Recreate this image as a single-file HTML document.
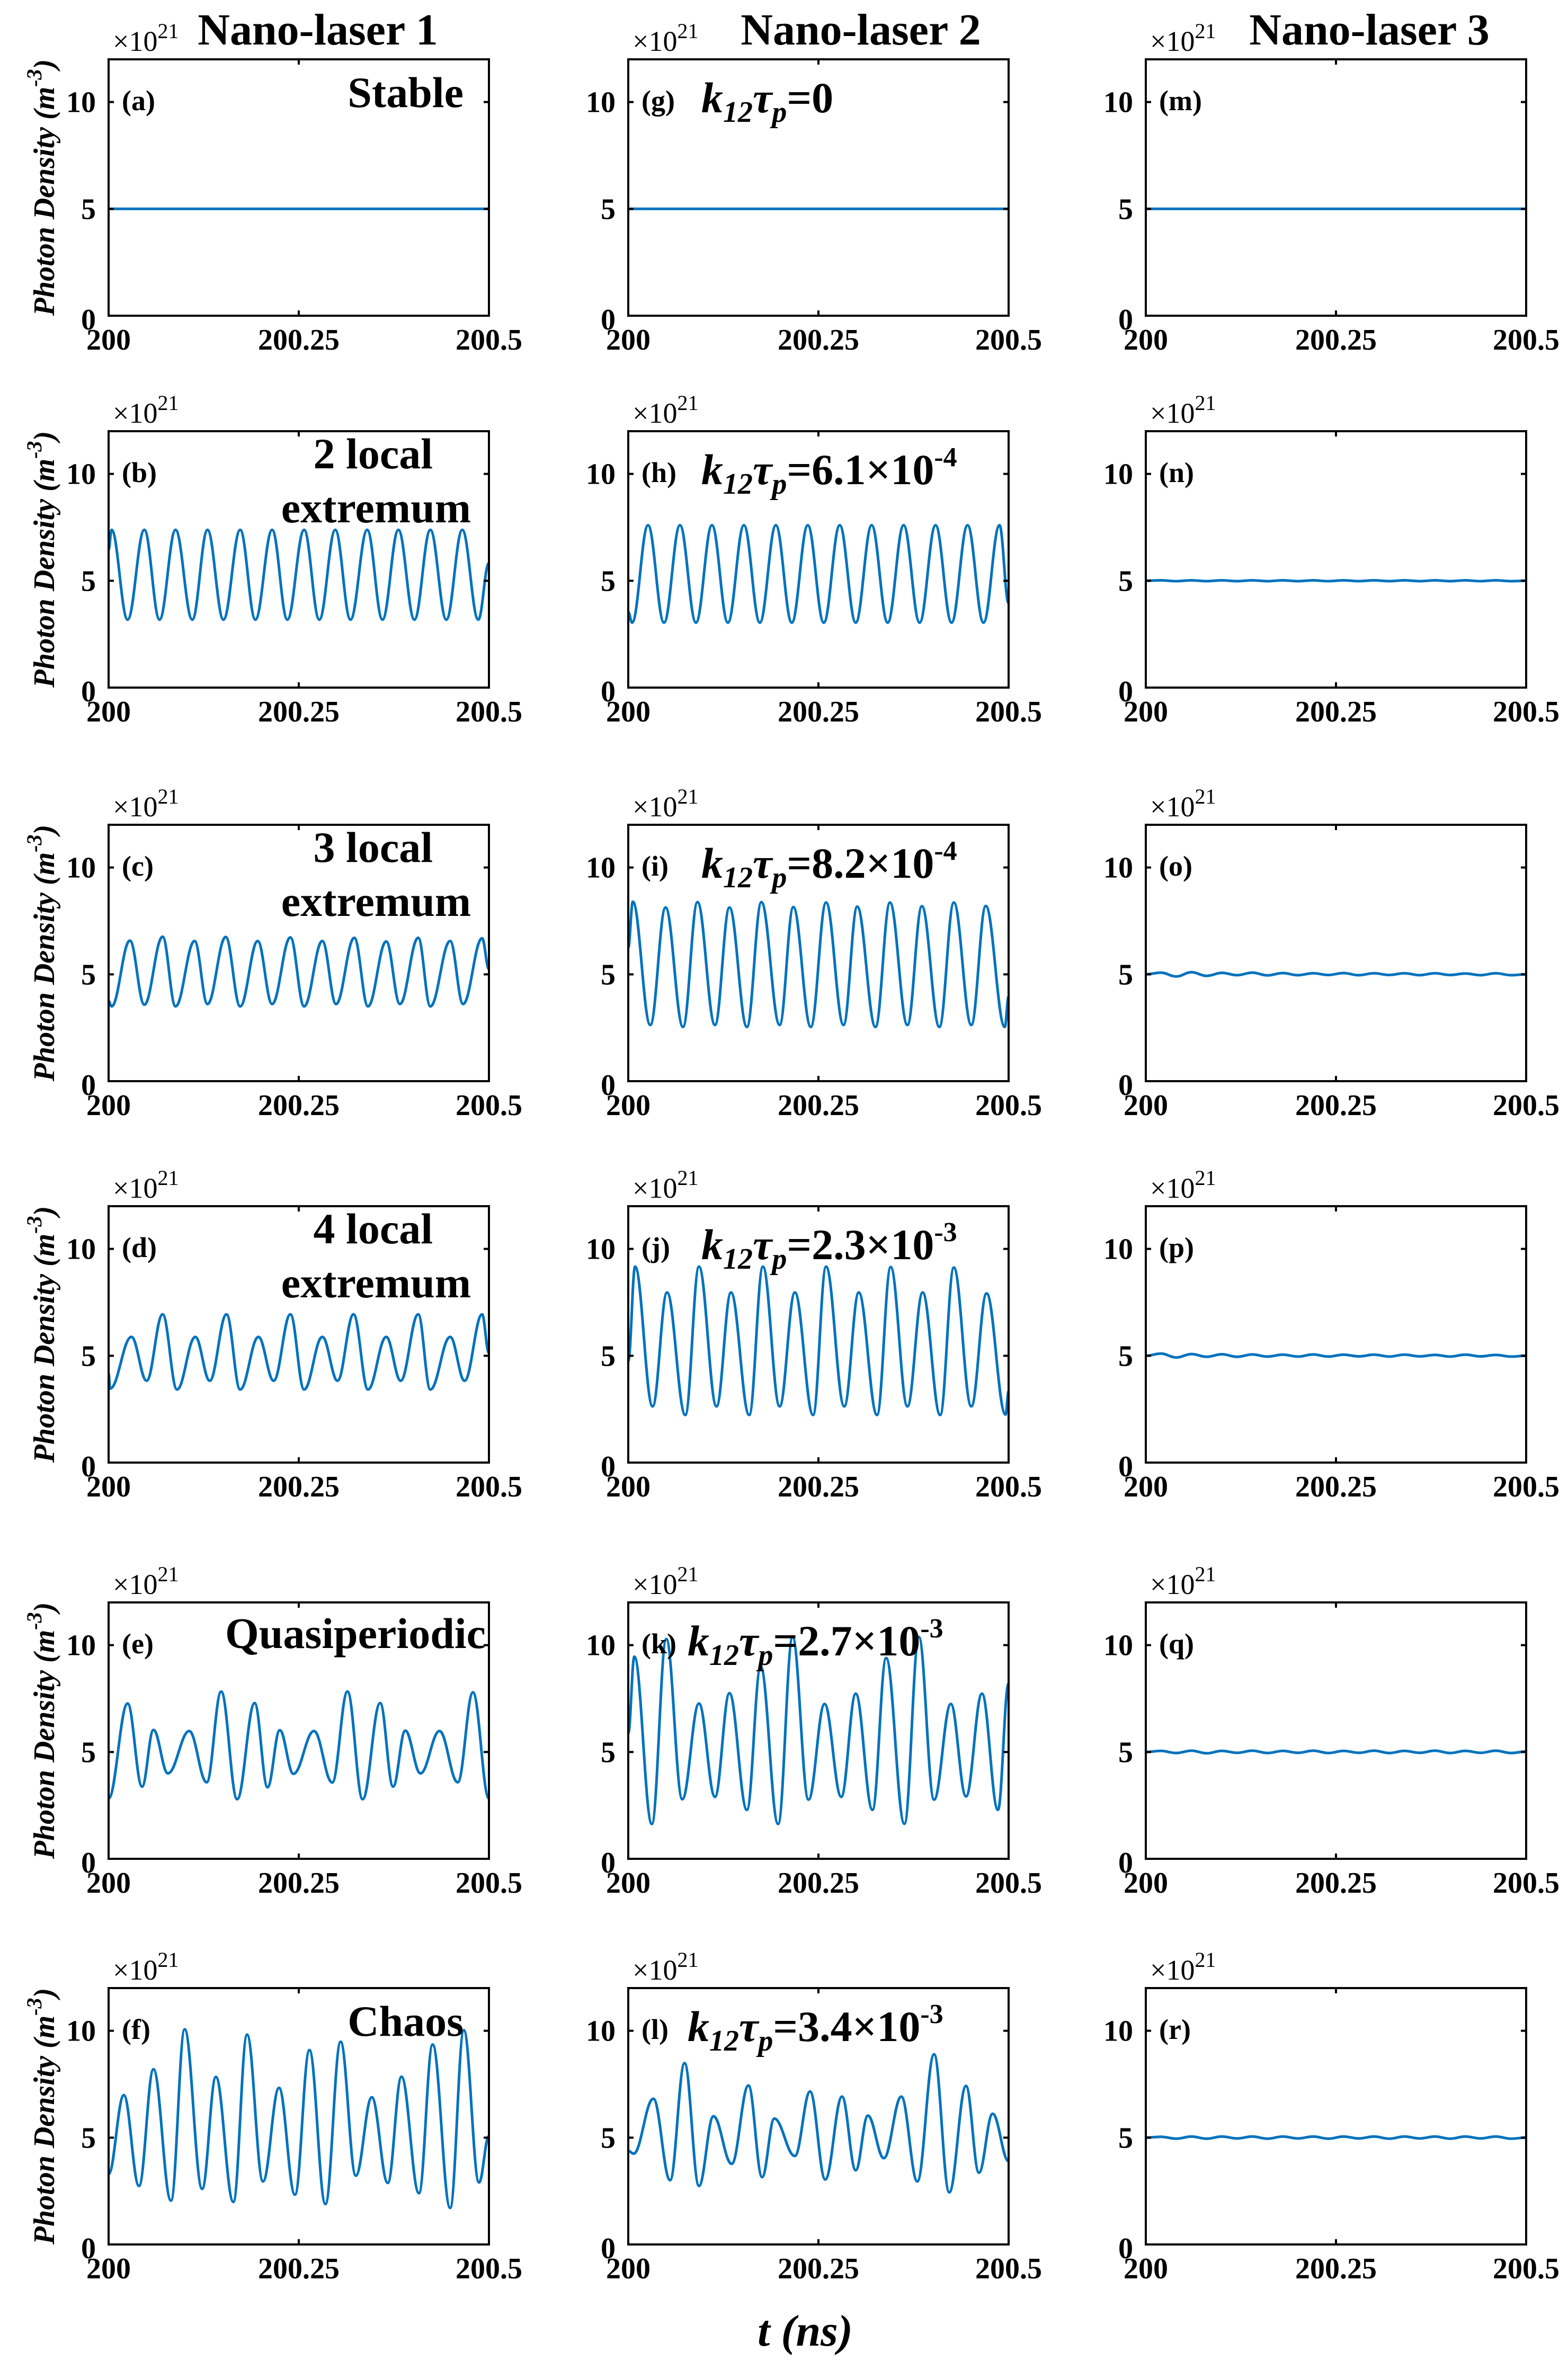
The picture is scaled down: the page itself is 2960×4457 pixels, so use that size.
<!DOCTYPE html>
<html><head><meta charset="utf-8"><title>Nano-laser photon density</title>
<style>
html,body{margin:0;padding:0;background:#fff;}
svg{display:block;font-family:"Liberation Serif",serif;}
</style></head>
<body>
<svg id="fig" xmlns="http://www.w3.org/2000/svg" width="2960" height="4457" viewBox="0 0 2960 4457">
<rect x="0" y="0" width="2960" height="4457" fill="#fff"/>
<text x="600" y="84" font-size="84" font-weight="bold" text-anchor="middle">Nano-laser 1</text>
<text x="1625" y="84" font-size="84" font-weight="bold" text-anchor="middle">Nano-laser 2</text>
<text x="2585" y="84" font-size="84" font-weight="bold" text-anchor="middle">Nano-laser 3</text>
<text x="1520" y="4428" font-size="84" font-weight="bold" font-style="italic" text-anchor="middle">t (ns)</text>
<g id="panels"></g>
</svg>
<script>
// ---- data: times as picoseconds after 200 ns, values in units of 1e21 m^-3 ----
const xTickLabels = ["200", "200.25", "200.5"];
const xTickValues = [200, 200.25, 200.5];
const yTickValues = [0, 5, 10];
const yTickLabels = ["0", "5", "10"];

const tFlat = [0, 500];
const vA = [5, 5];
const vG = [5, 5];
const vM = [5, 5];

const tB = [0,4,25,47,67,88,110,130,151,173,193,215,235,257,277,298,318,340,360,381,402,423,444,465,486,500];
const vB = [6.46,7.38,3.18,7.38,3.18,7.38,3.18,7.38,3.18,7.38,3.18,7.38,3.18,7.38,3.18,7.38,3.18,7.38,3.18,7.38,3.18,7.38,3.18,7.38,3.18,5.83];

const tC = [0,4,28,47,71,88,113,130,154,173,196,215,239,257,281,299,323,341,365,383,407,423,449,466,491,500];
const vC = [3.75,3.5,6.58,3.58,6.76,3.5,6.56,3.61,6.75,3.5,6.56,3.61,6.73,3.5,6.56,3.61,6.71,3.5,6.54,3.61,6.71,3.5,6.56,3.61,6.69,5.25];

const tD = [0,2,30,50,71,90,114,133,155,173,197,217,239,257,281,301,322,341,365,384,407,423,449,468,491,500];
const vD = [4.17,3.46,5.88,3.83,6.94,3.42,5.88,3.83,6.94,3.42,5.88,3.83,6.94,3.42,5.88,3.83,6.94,3.42,5.88,3.83,6.94,3.42,5.88,3.83,6.94,5.13];

const tE = [0,25,44,59,78,106,129,148,169,192,209,225,243,270,294,314,334,357,374,390,410,435,459,479,500];
const vE = [2.83,7.27,3.38,6.03,4.0,5.98,3.58,7.83,2.79,7.29,3.35,6.02,3.98,5.98,3.57,7.83,2.79,7.29,3.38,6.0,4.0,5.98,3.58,7.79,2.83];

const tF = [0,20,40,59,82,100,123,141,164,182,203,224,245,264,285,305,325,346,367,385,408,426,449,467,487,500];
const vF = [3.3,6.99,2.74,8.2,2.05,10.07,2.6,7.84,1.99,9.82,2.95,7.33,2.33,9.1,1.89,9.49,3.22,6.89,2.88,7.85,2.4,9.36,1.71,10.03,2.9,5.07];

const tH = [0,5,26,47,68,89,110,131,152,173,194,215,236,257,278,299,320,341,362,383,404,425,446,467,488,500];
const vH = [3.54,3.04,7.6,3.04,7.6,3.04,7.6,3.04,7.6,3.04,7.6,3.04,7.6,3.04,7.6,3.04,7.6,3.04,7.6,3.04,7.6,3.04,7.6,3.04,7.6,3.96];

const tI = [0,6,29,49,72,91,114,133,156,175,199,217,240,260,283,301,325,344,367,386,409,428,451,470,495,500];
const vI = [6.25,8.4,2.63,8.13,2.54,8.38,2.63,8.13,2.54,8.38,2.63,8.15,2.54,8.36,2.63,8.17,2.54,8.36,2.63,8.19,2.54,8.36,2.63,8.2,2.54,3.96];

const tJ = [0,9,32,51,75,93,116,135,159,177,199,219,243,260,284,303,327,345,367,387,410,428,451,471,496,500];
const vJ = [4.75,9.17,2.63,7.96,2.23,9.17,2.63,7.96,2.23,9.17,2.63,7.96,2.23,9.17,2.63,7.96,2.23,9.15,2.63,7.96,2.23,9.13,2.63,7.92,2.25,3.33];

const tK = [0,8,31,50,71,93,114,133,156,174,197,216,237,258,280,299,321,339,363,382,402,424,444,465,486,500];
const vK = [5.88,9.46,1.63,10.29,2.79,7.27,2.9,7.75,2.29,9.0,1.63,10.38,2.77,7.25,2.9,7.73,2.29,9.4,1.64,10.38,2.77,7.25,2.92,7.73,2.29,8.2];

const tL = [0,7,33,55,74,93,112,136,158,176,192,219,239,259,281,299,315,336,359,380,402,422,444,461,479,500];
const vL = [4.38,4.25,6.82,3.01,8.49,2.74,6.0,3.77,7.44,3.15,5.89,4.14,7.16,3.04,6.92,3.47,6.03,4.04,6.92,2.95,8.9,2.44,7.42,3.36,6.12,3.9];

const tRip = [0,20,40,60,80,100,120,140,160,180,200,220,240,260,280,300,320,340,360,380,400,420,440,460,480,500];
const vN = [5.0,5.02,4.98,5.02,4.98,5.02,4.98,5.02,4.98,5.02,4.98,5.02,4.98,5.02,4.98,5.02,4.98,5.02,4.98,5.02,4.98,5.02,4.98,5.02,4.98,5.0];
const vO = [5.0,5.08,4.9,5.1,4.93,5.07,4.96,5.08,4.95,5.06,4.96,5.05,4.97,5.06,4.96,5.05,4.97,5.05,4.96,5.05,4.97,5.04,4.96,5.05,4.96,5.0];
const vP = [5.0,5.1,4.92,5.08,4.95,5.07,4.95,5.06,4.96,5.05,4.96,5.06,4.96,5.05,4.97,5.05,4.96,5.05,4.97,5.04,4.96,5.05,4.97,5.04,4.96,5.0];
const vQ = [5.0,5.05,4.95,5.06,4.94,5.05,4.96,5.06,4.95,5.05,4.96,5.06,4.95,5.05,4.96,5.06,4.95,5.05,4.96,5.06,4.95,5.05,4.96,5.06,4.95,5.02];
const vR = [5.0,5.04,4.95,5.05,4.95,5.05,4.96,5.05,4.95,5.05,4.96,5.05,4.95,5.05,4.96,5.05,4.95,5.05,4.96,5.05,4.95,5.05,4.96,5.05,4.95,5.0];

// ---- layout ----
const NS = "http://www.w3.org/2000/svg";
const colLeft = [205, 1186, 2163];
const plotW = 718;
const rowBottom = [596, 1298, 2041, 2761, 3509, 4237];
const plotH = 484;
const yMax = 12;

function xScale(col, t) { return colLeft[col] + (t - 200) / 0.5 * plotW; }
function yScale(row, v) { return rowBottom[row] - v / yMax * plotH; }

const panels = [
  {row:0,col:0,id:"a",t:tFlat,v:vA,note:"Stable"},
  {row:1,col:0,id:"b",t:tB,v:vB,note:"2 local"},
  {row:2,col:0,id:"c",t:tC,v:vC,note:"3 local"},
  {row:3,col:0,id:"d",t:tD,v:vD,note:"4 local"},
  {row:4,col:0,id:"e",t:tE,v:vE,note:"Quasiperiodic"},
  {row:5,col:0,id:"f",t:tF,v:vF,note:"Chaos"},
  {row:0,col:1,id:"g",t:tFlat,v:vG,k:"0",kexp:""},
  {row:1,col:1,id:"h",t:tH,v:vH,k:"6.1×10",kexp:"-4"},
  {row:2,col:1,id:"i",t:tI,v:vI,k:"8.2×10",kexp:"-4"},
  {row:3,col:1,id:"j",t:tJ,v:vJ,k:"2.3×10",kexp:"-3"},
  {row:4,col:1,id:"k",t:tK,v:vK,k:"2.7×10",kexp:"-3"},
  {row:5,col:1,id:"l",t:tL,v:vL,k:"3.4×10",kexp:"-3"},
  {row:0,col:2,id:"m",t:tFlat,v:vM},
  {row:1,col:2,id:"n",t:tRip,v:vN},
  {row:2,col:2,id:"o",t:tRip,v:vO},
  {row:3,col:2,id:"p",t:tRip,v:vP},
  {row:4,col:2,id:"q",t:tRip,v:vQ},
  {row:5,col:2,id:"r",t:tRip,v:vR}
];

const root = document.getElementById("panels");
function mk(tag, attrs, parent) {
  const el = document.createElementNS(NS, tag);
  for (const k in attrs) el.setAttribute(k, attrs[k]);
  (parent || root).appendChild(el);
  return el;
}

panels.forEach(p => {
  const g = mk("g", {});
  
  
  const L = colLeft[p.col], R = L + plotW, B = rowBottom[p.row], T = B - plotH;

  // curve
  let d = "";
  for (let i = 0; i < p.t.length; i++) {
    const x = xScale(p.col, 200 + p.t[i] / 1000), y = yScale(p.row, p.v[i]);
    if (i === 0) { d += "M" + x.toFixed(1) + " " + y.toFixed(1); }
    else {
      const xp = xScale(p.col, 200 + p.t[i-1] / 1000), yp = yScale(p.row, p.v[i-1]);
      const dx = (x - xp) / 2.6;
      d += " C" + (xp + dx).toFixed(1) + " " + yp.toFixed(1) + " " + (x - dx).toFixed(1) + " " + y.toFixed(1) + " " + x.toFixed(1) + " " + y.toFixed(1);
    }
  }
  const line = mk("path", {d:d, fill:"none", stroke:"#0072BD", "stroke-width":5, "stroke-linejoin":"round"}, g);
  
  

  // axes box
  const box = mk("rect", {x:L, y:T, width:plotW, height:plotH, fill:"none", stroke:"#000", "stroke-width":4}, g);
  
  

  // y ticks
  yTickValues.forEach((v, i) => {
    const y = yScale(p.row, v);
    const tk = mk("path", {d:"M"+L+" "+y+" h10 M"+R+" "+y+" h-10", stroke:"#000", "stroke-width":4}, g);
    
    
    const lb = mk("text", {x:L-24, y:y+(v === 0 ? 26 : 19), "font-size":56, "font-weight":"bold", "text-anchor":"end"}, g);
    
    
    lb.textContent = yTickLabels[i];
  });
  // x ticks
  xTickValues.forEach((v, i) => {
    const x = xScale(p.col, v);
    const tk = mk("path", {d:"M"+x+" "+B+" v-10 M"+x+" "+T+" v10", stroke:"#000", "stroke-width":4}, g);
    
    
    const lb = mk("text", {x:x, y:B+64, "font-size":56, "font-weight":"bold", "text-anchor":"middle"}, g);
    
    
    lb.textContent = xTickLabels[i];
  });
  // exponent
  const ex = mk("text", {x:L+8, y:T-16, "font-size":54}, g);
  
  
  ex.innerHTML = '×10<tspan font-size="40" dy="-24">21</tspan>';

  // panel label
  const pl = mk("text", {x:L+25, y:T+96, "font-size":54, "font-weight":"bold"}, g);
  
  
  pl.textContent = "(" + p.id + ")";

  // y axis title (col 0)
  if (p.col === 0) {
    const cy = (T + B) / 2;
    const yt = mk("text", {x:0, y:0, "font-size":56, "font-weight":"bold", "font-style":"italic", "text-anchor":"middle", transform:"translate(102 "+cy+") rotate(-90)"}, g);
    
    
    yt.innerHTML = 'Photon Density (m<tspan font-size="40" dy="-24">-3</tspan><tspan dy="24">)</tspan>';
  }

  // annotations
  if (p.note) {
    if (p.note.indexOf("local") >= 0) {
      const a1 = mk("text", {x:R-106, y:T+70, "font-size":82, "font-weight":"bold", "text-anchor":"end"}, g);
      
      
      a1.textContent = p.note;
      const a2 = mk("text", {x:R-34, y:T+172, "font-size":82, "font-weight":"bold", "text-anchor":"end"}, g);
      
      
      a2.textContent = "extremum";
    } else {
      const ax = p.note === "Quasiperiodic" ? R - 6 : R - 48;
      const a1 = mk("text", {x:ax, y:T+(p.note === "Quasiperiodic" ? 86 : 90), "font-size":82, "font-weight":"bold", "text-anchor":"end"}, g);
      
      
      a1.textContent = p.note;
    }
  }
  if (p.k !== undefined) {
    const kx = (p.id === "k" || p.id === "l") ? L + 112 : L + 138;
    const kt = mk("text", {x:kx, y:T+100, "font-size":82, "font-weight":"bold"}, g);
    
    
    let h = '<tspan font-style="italic">k</tspan><tspan font-style="italic" font-size="56" dy="18">12</tspan><tspan font-style="italic" dy="-18">τ</tspan><tspan font-style="italic" font-size="56" dy="18">p</tspan><tspan dy="-18">=' + p.k + '</tspan>';
    if (p.kexp) h += '<tspan font-size="52" dy="-34">' + p.kexp + '</tspan>';
    kt.innerHTML = h;
  }
});
</script>
</body></html>
